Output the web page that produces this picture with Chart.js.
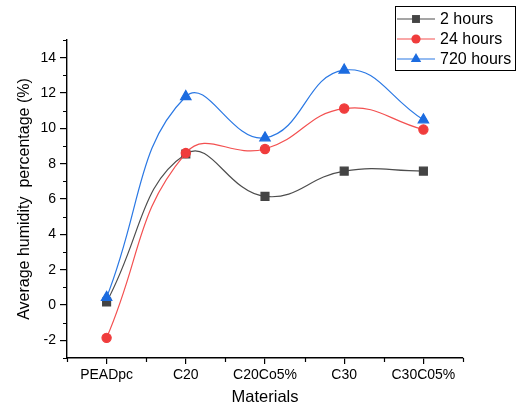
<!DOCTYPE html>
<html>
<head>
<meta charset="utf-8">
<script src="https://cdn.jsdelivr.net/npm/chart.js@4/dist/chart.umd.min.js"></script>
<style>
  html, body { margin: 0; padding: 0; background: #fff; }
  #wrap { width: 518px; height: 410px; }
</style>
</head>
<body>
<div id="wrap"><canvas id="myChart" width="518" height="410"></canvas></div>
<script>
// data
const materials = ["PEADpc", "C20", "C20Co5%", "C30", "C30C05%"];
const hours2 = [0.17, 8.55, 6.15, 7.58, 7.58];
const hours24 = [-1.86, 8.6, 8.83, 11.12, 9.93];
const hours720 = [0.43, 11.8, 9.46, 13.3, 10.48];
const seriesNames = ["2 hours", "24 hours", "720 hours"];
const yTicks = [-2, 0, 2, 4, 6, 8, 10, 12, 14];

const toPoints = (vals) => vals.map((v, i) => ({ x: i, y: v }));

// minor ticks + legend box, Origin style
const originDeco = {
  id: "originDeco",
  afterDraw(chart) {
    const ctx = chart.ctx;
    const xs = chart.scales.x, ys = chart.scales.y;
    ctx.save();
    ctx.strokeStyle = "#000";
    ctx.lineWidth = 1.2;
    ctx.beginPath();
    for (let v = -0.5; v <= 4.5; v += 1) {
      const px = Math.round(xs.getPixelForValue(v)) + 0.5;
      ctx.moveTo(px, ys.bottom);
      ctx.lineTo(px, ys.bottom + 4);
    }
    for (let v = -3; v <= 15; v += 2) {
      const py = Math.round(ys.getPixelForValue(v)) + 0.5;
      ctx.moveTo(xs.left, py);
      ctx.lineTo(xs.left - 4, py);
    }
    ctx.stroke();

    // legend
    const bx = 395, by = 6, bw = 120, bh = 64;
    ctx.fillStyle = "#fff";
    ctx.fillRect(bx, by, bw, bh);
    ctx.lineWidth = 1;
    ctx.strokeStyle = "#000";
    ctx.strokeRect(bx + 0.5, by + 0.5, bw, bh);
    ctx.font = "16px Arial, 'Liberation Sans'";
    ctx.textBaseline = "middle";
    chart.data.datasets.forEach((ds, i) => {
      const cy = by + 13 + i * 20;
      const mx = bx + 21;
      ctx.strokeStyle = ds.borderColor;
      ctx.lineWidth = 1.2;
      ctx.beginPath();
      ctx.moveTo(bx + 2, cy);
      ctx.lineTo(bx + 40, cy);
      ctx.stroke();
      ctx.fillStyle = ds.pointBackgroundColor;
      ctx.beginPath();
      if (ds.pointStyle === "rect") {
        const s = ds.pointRadius * Math.SQRT1_2;
        ctx.rect(mx - s, cy - s, 2 * s, 2 * s);
      } else if (ds.pointStyle === "circle") {
        ctx.arc(mx, cy, ds.pointRadius, 0, Math.PI * 2);
      } else {
        const r = ds.pointRadius;
        ctx.moveTo(mx, cy - r);
        ctx.lineTo(mx + r * 0.866, cy + r * 0.5);
        ctx.lineTo(mx - r * 0.866, cy + r * 0.5);
        ctx.closePath();
      }
      ctx.fill();
      ctx.fillStyle = "#000";
      ctx.fillText(ds.label, bx + 45, cy + 1);
    });
    ctx.restore();
  }
};

new Chart(document.getElementById("myChart").getContext("2d"), {
  type: "line",
  data: {
    datasets: [
      {
        label: seriesNames[0],
        data: toPoints(hours2),
        borderColor: "#4d4d4d",
        pointBackgroundColor: "#444",
        pointBorderColor: "#444",
        pointStyle: "rect",
        pointRadius: 5.6,
        borderWidth: 1.2,
        tension: 0.45,
        order: 2
      },
      {
        label: seriesNames[1],
        data: toPoints(hours24),
        borderColor: "#f35050",
        pointBackgroundColor: "#f03c3c",
        pointBorderColor: "#f03c3c",
        pointStyle: "circle",
        pointRadius: 4.6,
        borderWidth: 1.2,
        tension: 0.45,
        order: 1
      },
      {
        label: seriesNames[2],
        data: toPoints(hours720),
        borderColor: "#2a78e4",
        pointBackgroundColor: "#1c6ce0",
        pointBorderColor: "#1c6ce0",
        pointStyle: "triangle",
        pointRadius: 6,
        borderWidth: 1.2,
        tension: 0.45,
        order: 0
      }
    ]
  },
  options: {
    responsive: false,
    animation: false,
    layout: { padding: { left: 0, top: 40, right: 55, bottom: 0 } },
    plugins: { legend: { display: false }, tooltip: { enabled: false } },
    scales: {
      x: {
        type: "linear",
        min: -0.5,
        max: 4.5,
        afterFit: (s) => { s.height = 52; },
        afterBuildTicks: (s) => { s.ticks = materials.map((m, i) => ({ value: i })); },
        ticks: {
          autoSkip: false,
          maxRotation: 0,
          padding: 3,
          color: "#000",
          font: { family: "Arial, 'Liberation Sans'", size: 14 },
          callback: (v) => materials[v]
        },
        grid: { drawOnChartArea: false, tickLength: 6, color: "#000", lineWidth: 1.2 },
        border: { display: true, color: "#000", width: 1.4 },
        title: {
          display: true,
          text: "Materials",
          color: "#000",
          font: { family: "Arial, 'Liberation Sans'", size: 16.5 },
          padding: { top: 0, bottom: 3 }
        }
      },
      y: {
        min: -3,
        max: 15,
        afterFit: (s) => { s.width = 67; },
        afterBuildTicks: (s) => { s.ticks = yTicks.map((v) => ({ value: v })); },
        ticks: {
          padding: 4,
          color: "#000",
          font: { family: "Arial, 'Liberation Sans'", size: 14 }
        },
        grid: { drawOnChartArea: false, tickLength: 7, color: "#000", lineWidth: 1.2 },
        border: { display: true, color: "#000", width: 1.4 },
        title: {
          display: true,
          text: "Average humidity  percentage (%)",
          color: "#000",
          font: { family: "Arial, 'Liberation Sans'", size: 16 },
          padding: { top: 15, bottom: 0 }
        }
      }
    }
  },
  plugins: [originDeco]
});
</script>
</body>
</html>
